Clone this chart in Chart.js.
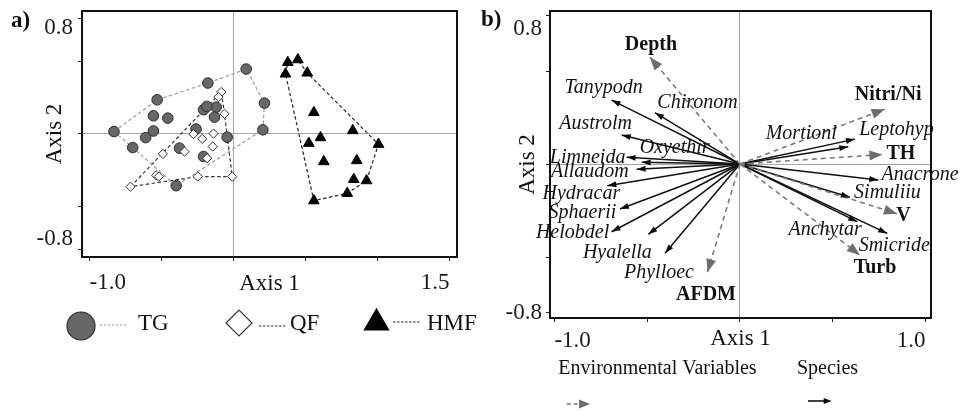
<!DOCTYPE html>
<html>
<head>
<meta charset="utf-8">
<script src="https://cdn.jsdelivr.net/npm/chart.js@4.4.1/dist/chart.umd.min.js"></script>
<style>
  html, body { margin: 0; padding: 0; background: #fff; }
  #wrap { position: relative; width: 961px; height: 411px; overflow: hidden; }
  #boxA { position: absolute; left: 0; top: 0; }
  #boxB { position: absolute; left: 480px; top: 0; }
</style>
</head>
<body>
<div id="wrap">
  <div id="boxA"><canvas id="chartA" width="480" height="411"></canvas></div>
  <div id="boxB"><canvas id="chartB" width="481" height="411"></canvas></div>
</div>
<script>
// ---- panel a: site scores ----
const tgX = [-0.83, -0.70, -0.61, -0.556, -0.556, -0.456, -0.53, -0.178, 0.088, 0.215, 0.204, -0.044, -0.12, -0.132, -0.208, -0.185, -0.26, -0.375, -0.208, -0.398];
const tgY = [0.016, -0.095, -0.026, 0.02, 0.125, 0.109, 0.236, 0.352, 0.449, 0.213, 0.028, -0.023, 0.185, 0.116, 0.167, 0.19, 0.033, -0.099, -0.157, -0.359];
const qfX = [-0.085, -0.104, -0.0625, -0.139, -0.217, -0.278, -0.144, -0.34, -0.183, -0.49, -0.537, -0.519, -0.715, -0.248, -0.009];
const qfY = [0.29, 0.255, 0.139, 0.002, -0.035, -0.002, -0.088, -0.123, -0.169, -0.139, -0.287, -0.296, -0.366, -0.296, -0.296];
const hmfX = [0.377, 0.447, 0.361, 0.512, 0.558, 0.828, 0.523, 0.604, 1.007, 0.627, 0.856, 0.835, 0.924, 0.79, 0.558];
const hmfY = [0.495, 0.514, 0.415, 0.422, 0.148, 0.023, -0.065, -0.026, -0.072, -0.192, -0.185, -0.315, -0.324, -0.412, -0.463];
// hull outlines, as indexes into the point lists
const tgHull = [0, 6, 7, 8, 9, 10, 19, 1, 0];
const qfHull = [12, 0, 2, 14, 13, 12];
const hmfHull = [2, 0, 1, 3, 8, 12, 13, 14, 2];
const groups = ['TG', 'QF', 'HMF'];
const xTicksA = [-1.0, -0.5, 0, 0.5, 1.0, 1.5];
const yTicksA = [-0.8, -0.5, 0, 0.5, 0.8];

// ---- panel b: biplot arrows ----
const envNames = ['Depth', 'Nitri/Ni', 'TH', 'V', 'Turb', 'AFDM'];
const envX = [-0.485, 0.78, 0.768, 0.846, 0.647, -0.175];
const envY = [0.574, 0.295, 0.051, -0.267, -0.489, -0.581];
const spNames = ['Tanypodn', 'Chironom', 'Austrolm', 'Oxyethir', 'Limneida', 'Allaudom', 'Hydracar', 'Sphaerii', 'Helobdel', 'Hyalella', 'Phylloec', 'Mortionl', 'Leptohyp', 'Anacrone', 'Simuliiu', 'Anchytar', 'Smicride'];
const spX = [-0.692, -0.458, -0.638, -0.53, -0.611, -0.557, -0.715, -0.647, -0.692, -0.494, -0.404, 0.584, 0.62, 0.746, 0.593, 0.632, 0.794];
const spY = [0.344, 0.276, 0.156, 0.009, 0.036, -0.028, -0.117, -0.242, -0.364, -0.378, -0.48, 0.093, 0.134, -0.086, -0.179, -0.31, -0.373];
const xTicksB = [-1.0, -0.5, 0, 0.5, 1.0];
const yTicksB = [-0.8, -0.5, 0, 0.5, 0.8];

// label nudges in px from the arrow tip (layout only)
const envLabelOff = [[1, -12], [3.5, -14], [18.5, -1], [6.5, 2], [15, 13], [-1.5, 23]];
const spLabelOff = [[-8, -12.5], [42.5, -10], [-26, -11.7], [33, -15], [-39, 0.7], [-46.7, 2.4], [-26, 8], [-37.5, 3.5], [-39, 1], [-31, 18], [-6, 19], [-47, -12.7], [41.5, -9], [41.7, -5], [37.5, -4.3], [-32, 8], [7, 12]];

const SERIF = '"Liberation Serif", "Times New Roman", serif';
Chart.defaults.font.family = SERIF;
Chart.defaults.color = '#1a1a1a';

const pts = (xs, ys) => xs.map((x, i) => ({x: x, y: ys[i]}));
const hullPts = (xs, ys, idx) => idx.map(i => ({x: xs[i], y: ys[i]}));

// box round the plot area
const frame = {
  id: 'frame',
  afterDraw(chart) {
    const {ctx, chartArea: a} = chart;
    ctx.save();
    ctx.lineWidth = 2;
    ctx.strokeStyle = '#111';
    ctx.strokeRect(a.left, a.top, a.right - a.left, a.bottom - a.top);
    ctx.restore();
  }
};

function arrowHead(ctx, x0, y0, x1, y1, len, wid, color) {
  const ang = Math.atan2(y1 - y0, x1 - x0);
  ctx.save();
  ctx.translate(x1, y1);
  ctx.rotate(ang);
  ctx.beginPath();
  ctx.moveTo(0, 0);
  ctx.lineTo(-len, wid / 2);
  ctx.lineTo(-len, -wid / 2);
  ctx.closePath();
  ctx.fillStyle = color;
  ctx.fill();
  ctx.restore();
}

function axisSetup(min, max, tickVals, fitSize, isX, labelFn, tickOpts) {
  return {
    type: 'linear', min: min, max: max,
    afterBuildTicks: s => { s.ticks = tickVals.map(v => ({value: v})); },
    afterFit: s => {
      if (isX) { s.height = fitSize; s.paddingLeft = 0; s.paddingRight = 0; }
      else { s.width = fitSize; s.paddingTop = 0; s.paddingBottom = 0; }
    },
    border: {display: false},
    grid: {
      color: c => (c.tick && c.tick.value === 0) ? '#a5a5a5' : 'rgba(0,0,0,0)',
      tickColor: '#222', tickLength: 4, lineWidth: 1
    },
    ticks: Object.assign({autoSkip: false, maxRotation: 0, color: '#1a1a1a', callback: labelFn}, tickOpts)
  };
}

// ---------------- chart a ----------------
const textA = {
  id: 'textA',
  afterDraw(chart) {
    const {ctx, chartArea: a} = chart;
    ctx.save();
    ctx.fillStyle = '#111';
    ctx.textBaseline = 'middle';
    ctx.font = 'bold 23px ' + SERIF;
    ctx.textAlign = 'left';
    ctx.fillText('a)', 11, 21);
    ctx.font = '23px ' + SERIF;
    ctx.textAlign = 'center';
    ctx.fillText('Axis 1', (a.left + a.right) / 2, 284);
    ctx.save();
    ctx.translate(55, (a.top + a.bottom) / 2);
    ctx.rotate(-Math.PI / 2);
    ctx.fillText('Axis 2', 0, 0);
    ctx.restore();

    // legend: marker, dashed stub, name
    const items = [
      {ds: chart.data.datasets[1], mx: 81, my: 326, r: 14, lx: [100, 127], ly: 325, tx: 138},
      {ds: chart.data.datasets[0], mx: 239, my: 323, r: 13, lx: [259, 287], ly: 326, tx: 290},
      {ds: chart.data.datasets[2], mx: 376.5, my: 323, r: 14, lx: [393, 420], ly: 322, tx: 427}
    ];
    items.forEach((it, i) => {
      ctx.fillStyle = it.ds.backgroundColor;
      ctx.strokeStyle = it.ds.borderColor;
      ctx.lineWidth = 1.2;
      Chart.helpers.drawPoint(ctx, {pointStyle: it.ds.pointStyle, rotation: 0, radius: it.r, borderWidth: 1.2}, it.mx, it.my);
      const hull = chart.data.datasets[3 + i];
      ctx.beginPath();
      ctx.setLineDash([2.5, 1.5]);
      ctx.strokeStyle = hull.borderColor;
      ctx.lineWidth = 1.2;
      ctx.moveTo(it.lx[0], it.ly);
      ctx.lineTo(it.lx[1], it.ly);
      ctx.stroke();
      ctx.setLineDash([]);
      ctx.fillStyle = '#111';
      ctx.textAlign = 'left';
      ctx.font = '23px ' + SERIF;
      ctx.fillText(it.ds.label, it.tx, 324);
    });
    ctx.restore();
  }
};

new Chart(document.getElementById('chartA'), {
  type: 'scatter',
  data: {
    datasets: [
      {label: groups[1], data: pts(qfX, qfY), pointStyle: 'rectRot', pointRadius: 4.6, backgroundColor: '#ffffff', borderColor: '#333', borderWidth: 1},
      {label: groups[0], data: pts(tgX, tgY), pointStyle: 'circle', pointRadius: 5.3, backgroundColor: '#676767', borderColor: '#2e2e2e', borderWidth: 1},
      {label: groups[2], data: pts(hmfX, hmfY), pointStyle: 'triangle', pointRadius: 6.2, backgroundColor: '#050505', borderColor: '#050505', borderWidth: 1},
      {label: 'TG hull', data: hullPts(tgX, tgY, tgHull), showLine: true, pointRadius: 0, borderColor: '#9c9c9c', borderWidth: 1.2, borderDash: [3.5, 2.5], fill: false},
      {label: 'QF hull', data: hullPts(qfX, qfY, qfHull), showLine: true, pointRadius: 0, borderColor: '#333', borderWidth: 1.2, borderDash: [3.5, 2.5], fill: false},
      {label: 'HMF hull', data: hullPts(hmfX, hmfY, hmfHull), showLine: true, pointRadius: 0, borderColor: '#222', borderWidth: 1.2, borderDash: [3.5, 2.5], fill: false}
    ]
  },
  options: {
    responsive: false,
    animation: false,
    layout: {padding: {left: 0, right: 23, top: 11, bottom: 114}},
    plugins: {legend: {display: false}, tooltip: {enabled: false}},
    scales: {
      x: axisSetup(-1.052, 1.552, xTicksA, 40, true,
        (v, i, t) => (i === 0 || i === t.length - 1) ? v.toFixed(1) : '',
        {align: 'inner', padding: 8, font: {size: 23}}),
      y: axisSetup(-0.853, 0.851, yTicksA, 82, false,
        v => v === 0.8 ? ['', '0.8'] : (v === -0.8 ? ['-0.8', ''] : ''),
        {padding: 5, font: {size: 23, lineHeight: '20px'}})
    }
  },
  plugins: [frame, textA]
});

// ---------------- chart b ----------------
const arrowsB = {
  id: 'arrowsB',
  afterDatasetsDraw(chart) {
    const ctx = chart.ctx;
    ctx.save();
    ctx.textAlign = 'center';
    ctx.textBaseline = 'middle';
    chart.data.datasets.forEach((ds, i) => {
      const m = chart.getDatasetMeta(i);
      const p0 = m.data[0], p1 = m.data[1];
      const env = ds.kind === 'env';
      arrowHead(ctx, p0.x, p0.y, p1.x, p1.y, env ? 13 : 9, env ? 10 : 6, env ? '#6d6d6d' : '#0c0c0c');
      const off = ds.labelOff;
      ctx.fillStyle = '#111';
      ctx.font = (env ? 'bold ' : 'italic ') + '20px ' + SERIF;
      ctx.fillText(ds.label, p1.x + off[0], p1.y + off[1]);
    });
    ctx.restore();
  }
};

const textB = {
  id: 'textB',
  afterDraw(chart) {
    const {ctx, chartArea: a} = chart;
    ctx.save();
    ctx.fillStyle = '#111';
    ctx.textBaseline = 'middle';
    ctx.font = 'bold 23px ' + SERIF;
    ctx.textAlign = 'left';
    ctx.fillText('b)', 1, 20);
    ctx.font = '23px ' + SERIF;
    ctx.textAlign = 'center';
    ctx.fillText('Axis 1', (a.left + a.right) / 2, 339);
    ctx.save();
    ctx.translate(47.5, (a.top + a.bottom) / 2);
    ctx.rotate(-Math.PI / 2);
    ctx.fillText('Axis 2', 0, 0);
    ctx.restore();
    // legend
    ctx.font = '20px ' + SERIF;
    ctx.fillText('Environmental Variables', 177.5, 369);
    ctx.fillText('Species', 347.5, 369);
    ctx.beginPath();
    ctx.setLineDash([4, 3]);
    ctx.strokeStyle = '#777';
    ctx.lineWidth = 1.6;
    ctx.moveTo(86.7, 404); ctx.lineTo(100, 404);
    ctx.stroke();
    ctx.setLineDash([]);
    arrowHead(ctx, 86.7, 404, 110, 404, 11, 9, '#6d6d6d');
    ctx.beginPath();
    ctx.strokeStyle = '#111';
    ctx.moveTo(328, 401); ctx.lineTo(345, 401);
    ctx.stroke();
    arrowHead(ctx, 328, 401, 351.7, 401, 8, 6, '#0c0c0c');
    ctx.restore();
  }
};

const arrowSets = [];
envNames.forEach((n, i) => arrowSets.push({
  label: n, kind: 'env', labelOff: envLabelOff[i],
  data: [{x: 0, y: 0}, {x: envX[i], y: envY[i]}],
  showLine: true, pointRadius: 0, borderColor: '#7a7a7a', borderWidth: 1.6, borderDash: [5, 4]
}));
spNames.forEach((n, i) => arrowSets.push({
  label: n, kind: 'sp', labelOff: spLabelOff[i],
  data: [{x: 0, y: 0}, {x: spX[i], y: spY[i]}],
  showLine: true, pointRadius: 0, borderColor: '#111', borderWidth: 1.5
}));

new Chart(document.getElementById('chartB'), {
  type: 'scatter',
  data: {datasets: arrowSets},
  options: {
    responsive: false,
    animation: false,
    layout: {padding: {left: 0, right: 30, top: 11, bottom: 63}},
    plugins: {legend: {display: false}, tooltip: {enabled: false}},
    scales: {
      x: axisSetup(-1.024, 1.03, xTicksB, 30, true,
        (v, i, t) => (i === 0 || i === t.length - 1) ? v.toFixed(1) : '',
        {align: 'inner', padding: 5, font: {size: 23}}),
      y: axisSetup(-0.828, 0.823, yTicksB, 70, false,
        v => v === 0.8 ? ['', '0.8'] : (v === -0.8 ? '-0.8' : ''),
        {padding: 4, font: {size: 23, lineHeight: '27px'}})
    }
  },
  plugins: [frame, arrowsB, textB]
});
</script>
</body>
</html>
